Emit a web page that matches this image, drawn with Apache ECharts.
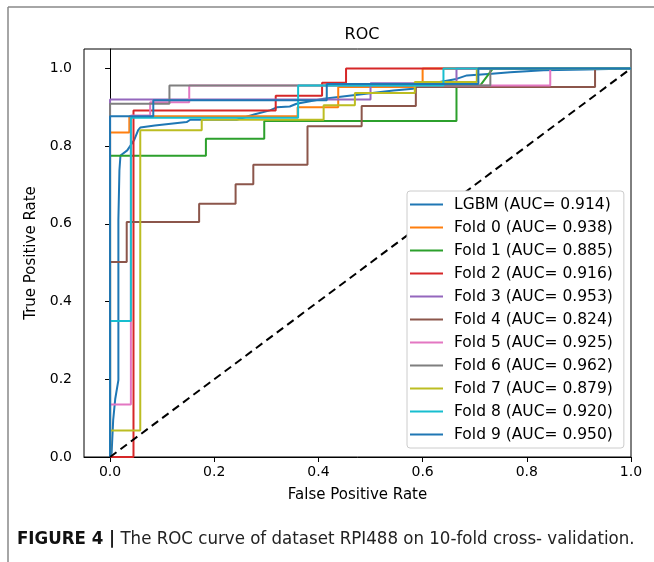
<!DOCTYPE html>
<html>
<head>
<meta charset="utf-8">
<script src="https://cdn.jsdelivr.net/npm/echarts@6/dist/echarts.min.js"></script>
<style>
  html, body { margin: 0; padding: 0; background: #fff; }
  #main { width: 654px; height: 562px; }
</style>
</head>
<body>
<div id="main"></div>
<script>
// tick labels
const tickValues = [0, 0.2, 0.4, 0.6, 0.8, 1.0];

// legend names
const curveNames = [
    'LGBM (AUC= 0.914)', 'Fold 0 (AUC= 0.938)', 'Fold 1 (AUC= 0.885)', 'Fold 2 (AUC= 0.916)',
    'Fold 3 (AUC= 0.953)', 'Fold 4 (AUC= 0.824)', 'Fold 5 (AUC= 0.925)', 'Fold 6 (AUC= 0.962)',
    'Fold 7 (AUC= 0.879)', 'Fold 8 (AUC= 0.920)', 'Fold 9 (AUC= 0.950)'
];
const curveColors = ['#1f77b4', '#ff7f0e', '#2ca02c', '#d62728', '#9467bd', '#8c564b',
    '#e377c2', '#7f7f7f', '#bcbd22', '#17becf', '#1f77b4'];

// mean curve
const lgbmFpr = [0, 0.003, 0.006, 0.010, 0.016, 0.016, 0.018, 0.020, 0.033, 0.046, 0.054, 0.058, 0.086, 0.147, 0.154, 0.243, 0.278, 0.307, 0.320, 0.345, 0.358, 0.410, 0.544, 0.582, 0.595, 0.665, 0.685, 0.733, 0.768, 0.832, 0.915, 1.0];
const lgbmTpr = [0, 0.010, 0.095, 0.150, 0.198, 0.610, 0.738, 0.776, 0.789, 0.815, 0.841, 0.848, 0.853, 0.862, 0.868, 0.868, 0.882, 0.892, 0.900, 0.902, 0.909, 0.922, 0.943, 0.948, 0.956, 0.973, 0.982, 0.986, 0.990, 0.995, 0.997, 1.0];

// folds
const fold0Fpr = [0, 0, 0.037, 0.037, 0.36, 0.36, 0.438, 0.438, 0.6, 0.6, 1];
const fold0Tpr = [0, 0.835, 0.835, 0.877, 0.877, 0.9, 0.9, 0.952, 0.952, 1, 1];
const fold1Fpr = [0, 0, 0.184, 0.184, 0.296, 0.296, 0.665, 0.665, 0.71, 0.735, 1];
const fold1Tpr = [0, 0.775, 0.775, 0.819, 0.819, 0.865, 0.865, 0.955, 0.955, 1, 1];
const fold2Fpr = [0, 0.045, 0.045, 0.318, 0.318, 0.407, 0.407, 0.453, 0.453, 1];
const fold2Tpr = [0, 0, 0.892, 0.892, 0.93, 0.93, 0.963, 0.963, 1, 1];
const fold3Fpr = [0, 0, 0.5, 0.5, 0.665, 0.665, 1];
const fold3Tpr = [0, 0.92, 0.92, 0.962, 0.962, 1, 1];
const fold4Fpr = [0, 0, 0.032, 0.032, 0.171, 0.171, 0.241, 0.241, 0.275, 0.275, 0.379, 0.379, 0.483, 0.483, 0.587, 0.587, 0.931, 0.931, 1];
const fold4Tpr = [0, 0.502, 0.502, 0.605, 0.605, 0.652, 0.652, 0.702, 0.702, 0.752, 0.752, 0.851, 0.851, 0.903, 0.903, 0.952, 0.952, 1, 1];
const fold5Fpr = [0, 0, 0.04, 0.04, 0.077, 0.077, 0.152, 0.152, 0.845, 0.845, 1];
const fold5Tpr = [0, 0.135, 0.135, 0.879, 0.879, 0.913, 0.913, 0.956, 0.956, 1, 1];
const fold6Fpr = [0, 0, 0.114, 0.114, 0.73, 0.73, 1];
const fold6Tpr = [0, 0.909, 0.909, 0.956, 0.956, 1, 1];
const fold7Fpr = [0, 0, 0.058, 0.058, 0.176, 0.176, 0.41, 0.41, 0.47, 0.47, 0.585, 0.585, 0.704, 0.704, 1];
const fold7Tpr = [0, 0.068, 0.068, 0.841, 0.841, 0.868, 0.868, 0.905, 0.905, 0.937, 0.937, 0.965, 0.965, 1, 1];
const fold8Fpr = [0, 0, 0.04, 0.04, 0.361, 0.361, 0.64, 0.64, 1];
const fold8Tpr = [0, 0.35, 0.35, 0.873, 0.873, 0.956, 0.956, 1, 1];
const fold9Fpr = [0, 0, 0.083, 0.083, 0.416, 0.416, 0.707, 0.707, 1];
const fold9Tpr = [0, 0.877, 0.877, 0.918, 0.918, 0.96, 0.96, 1, 1];

// chance line
const chanceFpr = [0, 1];
const chanceTpr = [0, 1];

const allFpr = [lgbmFpr, fold0Fpr, fold1Fpr, fold2Fpr, fold3Fpr, fold4Fpr, fold5Fpr, fold6Fpr, fold7Fpr, fold8Fpr, fold9Fpr];
const allTpr = [lgbmTpr, fold0Tpr, fold1Tpr, fold2Tpr, fold3Tpr, fold4Tpr, fold5Tpr, fold6Tpr, fold7Tpr, fold8Tpr, fold9Tpr];

const zip = (xs, ys) => xs.map((x, i) => [x, ys[i]]);

const font = 'DejaVu Sans';
const captionFont = '"Liberation Sans Narrow", "DejaVu Sans Condensed", sans-serif';

const series = curveNames.map((name, i) => ({
    name: name,
    type: 'line',
    data: zip(allFpr[i], allTpr[i]),
    showSymbol: false,
    color: curveColors[i],
    lineStyle: { width: 2, color: curveColors[i] },
    animation: false
}));
series.push({
    name: 'chance',
    type: 'line',
    data: zip(chanceFpr, chanceTpr),
    showSymbol: false,
    lineStyle: { width: 2, color: '#000', type: [8, 5] },
    animation: false
});

const chart = echarts.init(document.getElementById('main'));
chart.setOption({
    backgroundColor: '#fff',
    animation: false,
    title: {
        text: 'ROC',
        left: 357, top: 22, textAlign: 'center',
        textStyle: { fontFamily: font, fontSize: 16, fontWeight: 'normal', color: '#000' }
    },
    grid: {
        left: 84, top: 49, width: 547, height: 408,
        show: true, borderColor: '#000', borderWidth: 1
    },
    xAxis: {
        type: 'value', min: -0.05, max: 1.0,
        name: 'False Positive Rate', nameLocation: 'middle', nameGap: 31,
        nameTextStyle: { fontFamily: font, fontSize: 15, color: '#000' },
        axisLine: { show: true, lineStyle: { color: '#000', width: 1 } },
        axisTick: { show: true, length: 5, customValues: tickValues, lineStyle: { color: '#000' } },
        axisLabel: {
            customValues: tickValues, margin: 8,
            formatter: v => v.toFixed(1),
            fontFamily: font, fontSize: 14, color: '#000'
        },
        splitLine: { show: false }
    },
    yAxis: {
        type: 'value', min: 0, max: 1.05,
        name: 'True Positive Rate', nameLocation: 'middle', nameGap: 41,
        nameTextStyle: { fontFamily: font, fontSize: 15, color: '#000' },
        axisLine: { show: true, lineStyle: { color: '#000', width: 1 } },
        axisTick: { show: true, length: 5, customValues: tickValues, lineStyle: { color: '#000' } },
        axisLabel: {
            customValues: tickValues, margin: 12,
            formatter: v => v.toFixed(1),
            fontFamily: font, fontSize: 14, color: '#000'
        },
        splitLine: { show: false }
    },
    legend: {
        data: curveNames,
        orient: 'vertical',
        left: 407, top: 191,
        padding: [5, 11, 5, 3],
        itemGap: 6,
        itemWidth: 33, itemHeight: 2,
        icon: 'rect',
        backgroundColor: '#fff',
        borderColor: '#ccc', borderWidth: 1, borderRadius: 3,
        textStyle: { fontFamily: font, fontSize: 15.5, color: '#000', lineHeight: 17, padding: [0, 0, 0, 6] }
    },
    series: series,
    graphic: [
        { type: 'line', shape: { x1: 8, y1: 7, x2: 654, y2: 7 }, style: { stroke: '#888', lineWidth: 1.5 } },
        { type: 'line', shape: { x1: 8, y1: 7, x2: 8, y2: 562 }, style: { stroke: '#888', lineWidth: 1.5 } },
        {
            type: 'text', left: 17, top: 530,
            style: {
                text: '{b|FIGURE 4 |} The ROC curve of dataset RPI488 on 10-fold cross- validation.',
                fontSize: 18.5,
                fontFamily: captionFont,
                fill: '#222',
                rich: {
                    b: { fontWeight: 'bold', fontSize: 18.5, fontFamily: captionFont, fill: '#111' }
                }
            }
        }
    ]
});
</script>
</body>
</html>
